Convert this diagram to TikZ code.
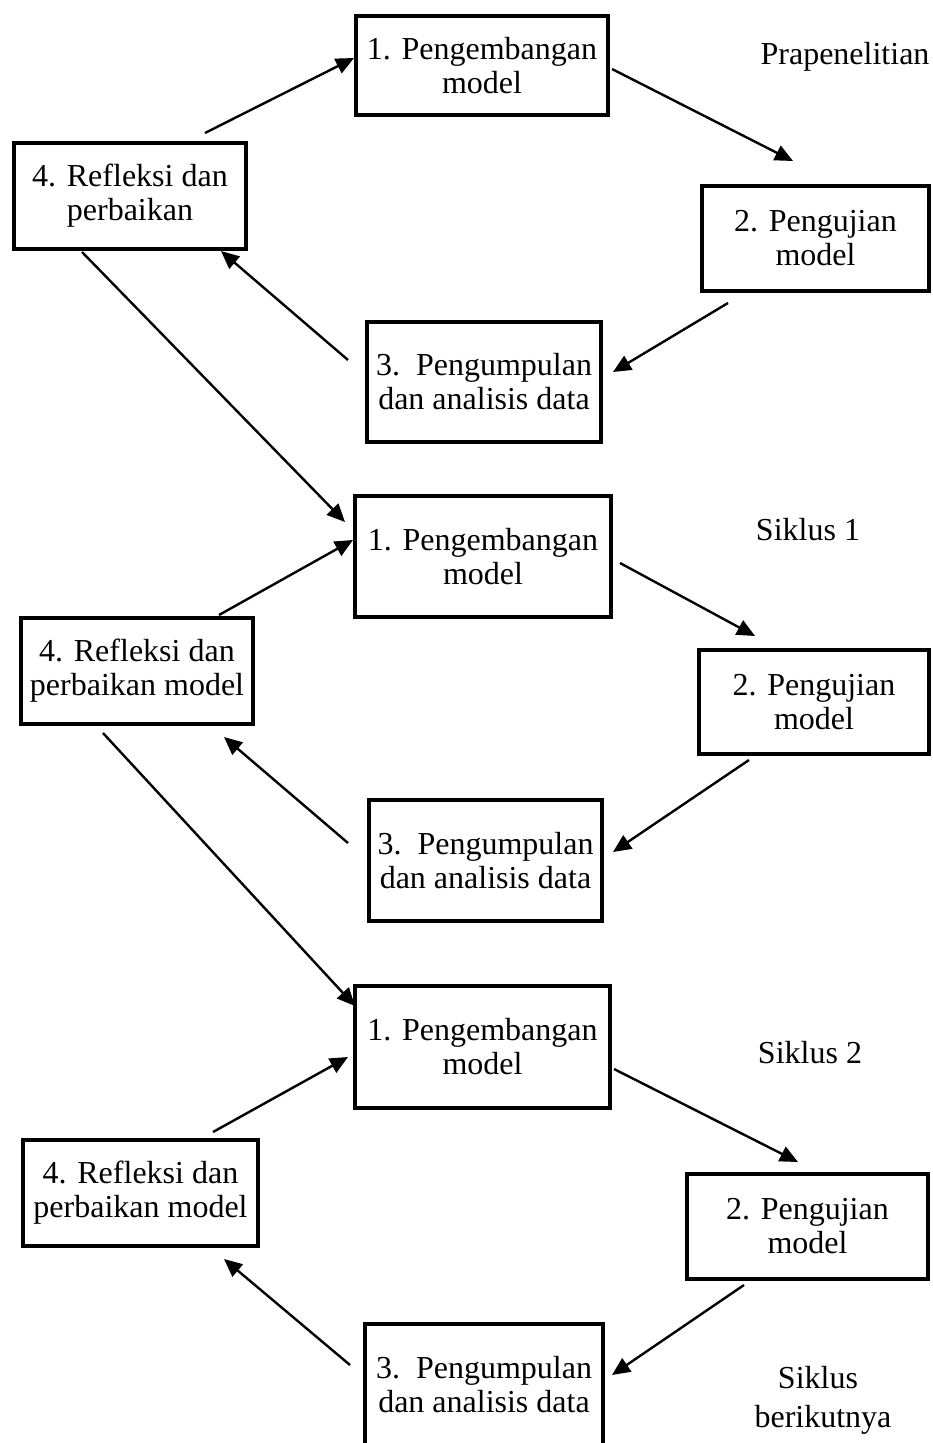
\documentclass[tikz,border=0pt]{standalone}
\usepackage{fontspec}
\setmainfont{Liberation Serif}
\usetikzlibrary{arrows.meta}
\tikzset{
  box/.style={draw, line width=4.5pt, rectangle, align=center, inner sep=0pt,
    font=\fontsize{32}{34}\selectfont},
  arr/.style={line width=2.4pt, -{Triangle[length=18pt,width=16pt]}},
  lbl/.style={align=center, inner sep=0pt, font=\fontsize{32}{34}\selectfont}
}
\begin{document}
\begin{tikzpicture}[x=1pt,y=-1pt]
\useasboundingbox (0,0) rectangle (933,1443);
\clip (0,0) rectangle (933,1443);
\fill[white] (0,0) rectangle (933,1443);

% ---------- Prapenelitian ----------
\node[box, minimum width=252pt, minimum height=99pt] (a1) at (482,65.5) {1. Pengembangan\\model};
\node[box, minimum width=232pt, minimum height=106pt] (a4) at (130,196) {4. Refleksi dan\\perbaikan};
\node[box, minimum width=227pt, minimum height=105pt] (a2) at (815.5,238.5) {2. Pengujian\\model};
\node[box, minimum width=234pt, minimum height=120pt] (a3) at (484,382) {3.\ \ Pengumpulan\\dan analisis data};
\node[lbl] (la) at (845,57) {Prapenelitian};

% ---------- Siklus 1 ----------
\node[box, minimum width=256pt, minimum height=121pt] (b1) at (483,556.5) {1. Pengembangan\\model};
\node[box, minimum width=232pt, minimum height=106pt] (b4) at (137,671) {4. Refleksi dan\\perbaikan model};
\node[box, minimum width=230pt, minimum height=104pt] (b2) at (814,702) {2. Pengujian\\model};
\node[box, minimum width=233pt, minimum height=121pt] (b3) at (485.5,860.5) {3.\ \ Pengumpulan\\dan analisis data};
\node[lbl] (lb) at (808,530) {Siklus 1};

% ---------- Siklus 2 ----------
\node[box, minimum width=255pt, minimum height=122pt] (c1) at (482.5,1047) {1. Pengembangan\\model};
\node[box, minimum width=235pt, minimum height=106pt] (c4) at (140.5,1193) {4. Refleksi dan\\perbaikan model};
\node[box, minimum width=241pt, minimum height=105pt] (c2) at (807.5,1226.5) {2. Pengujian\\model};
\node[box, minimum width=238pt, minimum height=121pt] (c3) at (484,1384.5) {3.\ \ Pengumpulan\\dan analisis data};
\node[lbl] (lc) at (810,1053) {Siklus 2};
\node[lbl] (ld1) at (818,1378) {Siklus};
\node[lbl] (ld2) at (823,1420) {berikutnya};

% ---------- connector end points ----------
\coordinate (a41s) at (205,133);  \coordinate (a41e) at (354,58);
\coordinate (a12s) at (612,69);   \coordinate (a12e) at (793,161);
\coordinate (a23s) at (728,303);  \coordinate (a23e) at (613,372);
\coordinate (a34s) at (348,360);  \coordinate (a34e) at (221,251);
\coordinate (ab1s) at (82,252);   \coordinate (ab1e) at (345,522);

\coordinate (b41s) at (219,615);  \coordinate (b41e) at (353,540);
\coordinate (b12s) at (620,563);  \coordinate (b12e) at (755,636);
\coordinate (b23s) at (749,760);  \coordinate (b23e) at (613,852);
\coordinate (b34s) at (348,843);  \coordinate (b34e) at (224,737);
\coordinate (bc1s) at (103,733);  \coordinate (bc1e) at (355,1006);

\coordinate (c41s) at (213,1132); \coordinate (c41e) at (348,1057);
\coordinate (c12s) at (614,1069); \coordinate (c12e) at (798,1162);
\coordinate (c23s) at (744,1285); \coordinate (c23e) at (612,1375);
\coordinate (c34s) at (350,1365); \coordinate (c34e) at (224,1259);

% ---------- connectors ----------
\draw[arr] (a41s) -- (a41e);
\draw[arr] (a12s) -- (a12e);
\draw[arr] (a23s) -- (a23e);
\draw[arr] (a34s) -- (a34e);
\draw[arr] (ab1s) -- (ab1e);

\draw[arr] (b41s) -- (b41e);
\draw[arr] (b12s) -- (b12e);
\draw[arr] (b23s) -- (b23e);
\draw[arr] (b34s) -- (b34e);
\draw[arr] (bc1s) -- (bc1e);

\draw[arr] (c41s) -- (c41e);
\draw[arr] (c12s) -- (c12e);
\draw[arr] (c23s) -- (c23e);
\draw[arr] (c34s) -- (c34e);
\end{tikzpicture}
\end{document}
